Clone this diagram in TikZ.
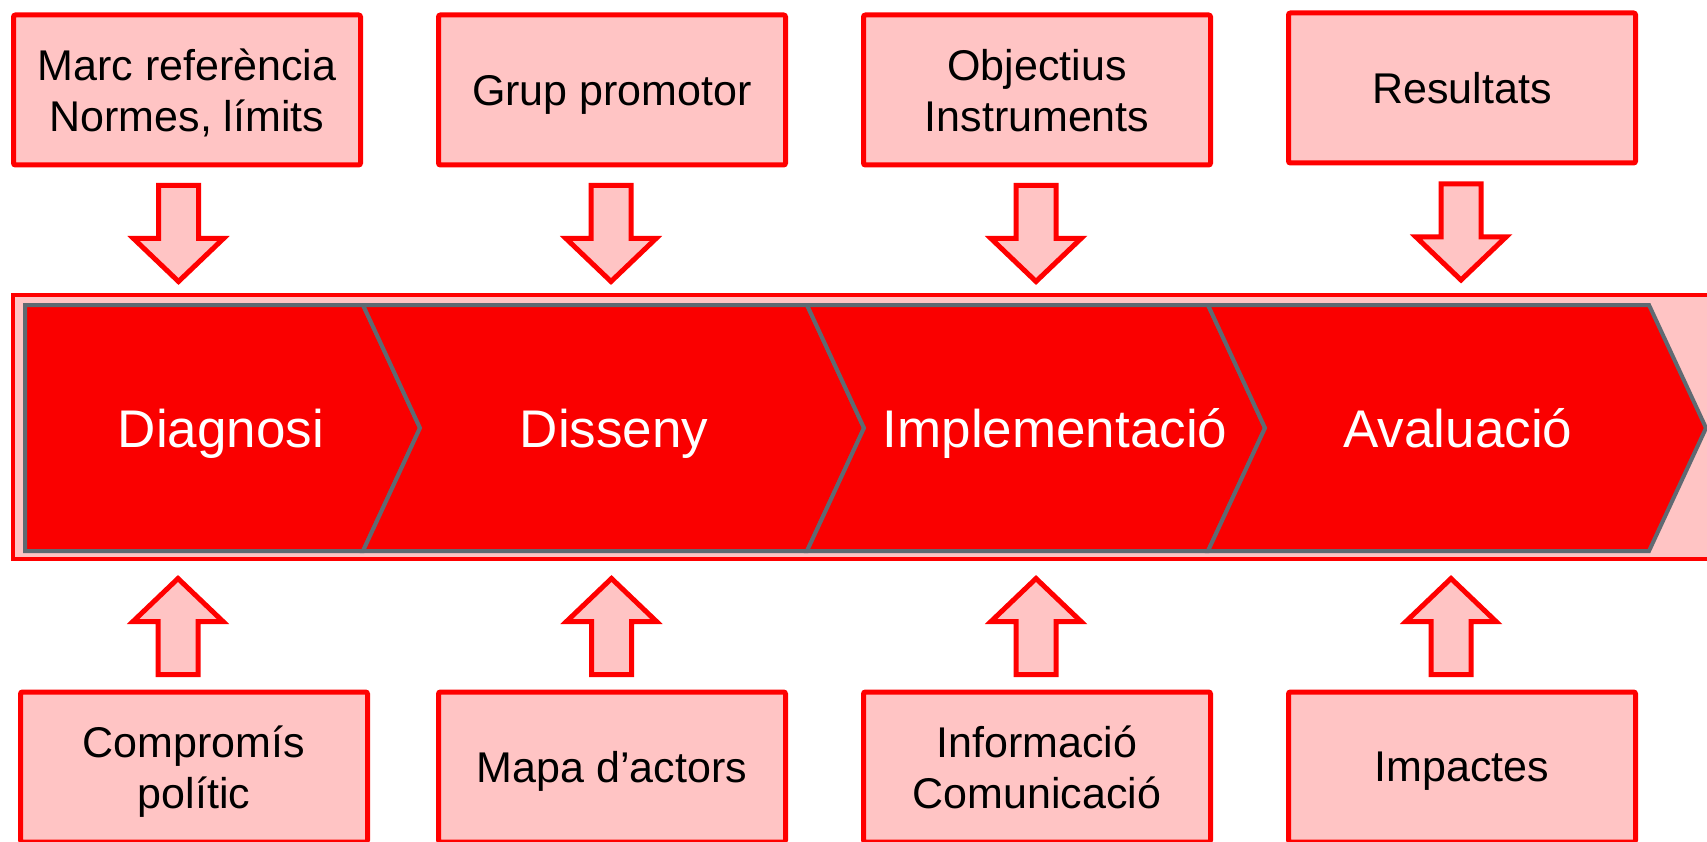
\documentclass[tikz,border=0pt]{standalone}
\usepackage{fontspec}
\setmainfont{Liberation Sans}
\usetikzlibrary{positioning}

\definecolor{boxpink}{RGB}{255,196,196}
\definecolor{phasered}{RGB}{250,0,0}
\definecolor{phasegray}{RGB}{95,106,114}

\tikzset{
  infobox/.style={draw=red, line width=5pt, fill=boxpink, rounded corners=2pt,
    minimum width=347pt, minimum height=150pt, align=center, text depth=0pt,
    font=\fontsize{43}{51}\selectfont},
  band/.style={draw=red, line width=4pt, fill=boxpink},
  phase/.style={draw=phasegray, line width=4pt, fill=phasered, line join=miter},
  phaselabel/.style={text=white, anchor=base, font=\fontsize{53}{60}\selectfont},
  blockarrow/.style={draw=red, line width=5pt, fill=boxpink, line join=miter},
  blockdown/.pic={\draw[blockarrow] (-20,0) -- (20,0) -- (20,53) -- (45,53)
    -- (0,96) -- (-45,53) -- (-20,53) -- cycle;},
  blockup/.pic={\draw[blockarrow] (-20,0) -- (20,0) -- (20,-53) -- (45,-53)
    -- (0,-96) -- (-45,-53) -- (-20,-53) -- cycle;}
}

\begin{document}
\begin{tikzpicture}[x=1pt, y=-1pt, node distance=73pt]
  \useasboundingbox (0,0) rectangle (1707,842);

  % band with the four phases
  \draw[band] (13,295) rectangle (1720,559);
  \draw[phase] (25,305) -- (363,305) -- (420,428) -- (363,551) -- (25,551) -- cycle;
  \draw[phase] (363,305) -- (807,305) -- (864,428) -- (807,551) -- (363,551) -- (420,428) -- cycle;
  \draw[phase] (807,305) -- (1208,305) -- (1265,428) -- (1208,551) -- (807,551) -- (864,428) -- cycle;
  \draw[phase] (1208,305) -- (1649,305) -- (1706,428) -- (1649,551) -- (1208,551) -- (1265,428) -- cycle;

  \node[phaselabel] (diag) at (221,447) {Diagnosi};
  \node[phaselabel] (diss) at (614,447) {Disseny};
  \node[phaselabel] (impl) at (1055,447) {Implementació};
  \node[phaselabel] (aval) at (1458,447) {Avaluació};

  % inputs above
  \node[infobox] (marc) at (187,90) {Marc referència\\Normes, límits};
  \node[infobox, right=of marc] (grup) {Grup promotor};
  \node[infobox, right=of grup] (obj) {Objectius\\Instruments};
  \node[infobox, right=of obj, yshift=2pt] (res) {Resultats};

  % inputs below
  \node[infobox] (comp) at (194,767) {Compromís\\polític};
  \node[infobox, below=522pt of grup] (mapa) {Mapa d’actors};
  \node[infobox, below=522pt of obj] (info) {Informació\\Comunicació};
  \node[infobox, below=522pt of obj.south -| res] (imp) {Impactes};

  % block arrows
  \coordinate (down1) at (178.5,185.5);
  \coordinate (down2) at (611,185.5);
  \coordinate (down3) at (1036,185.5);
  \coordinate (down4) at (1461,184);
  \pic at (down1) {blockdown};
  \pic at (down2) {blockdown};
  \pic at (down3) {blockdown};
  \pic at (down4) {blockdown};

  \coordinate (up1) at (178,674.5);
  \coordinate (up2) at (611.5,674.5);
  \coordinate (up3) at (1036,674.5);
  \coordinate (up4) at (1451,674.5);
  \pic at (up1) {blockup};
  \pic at (up2) {blockup};
  \pic at (up3) {blockup};
  \pic at (up4) {blockup};
\end{tikzpicture}
\end{document}
